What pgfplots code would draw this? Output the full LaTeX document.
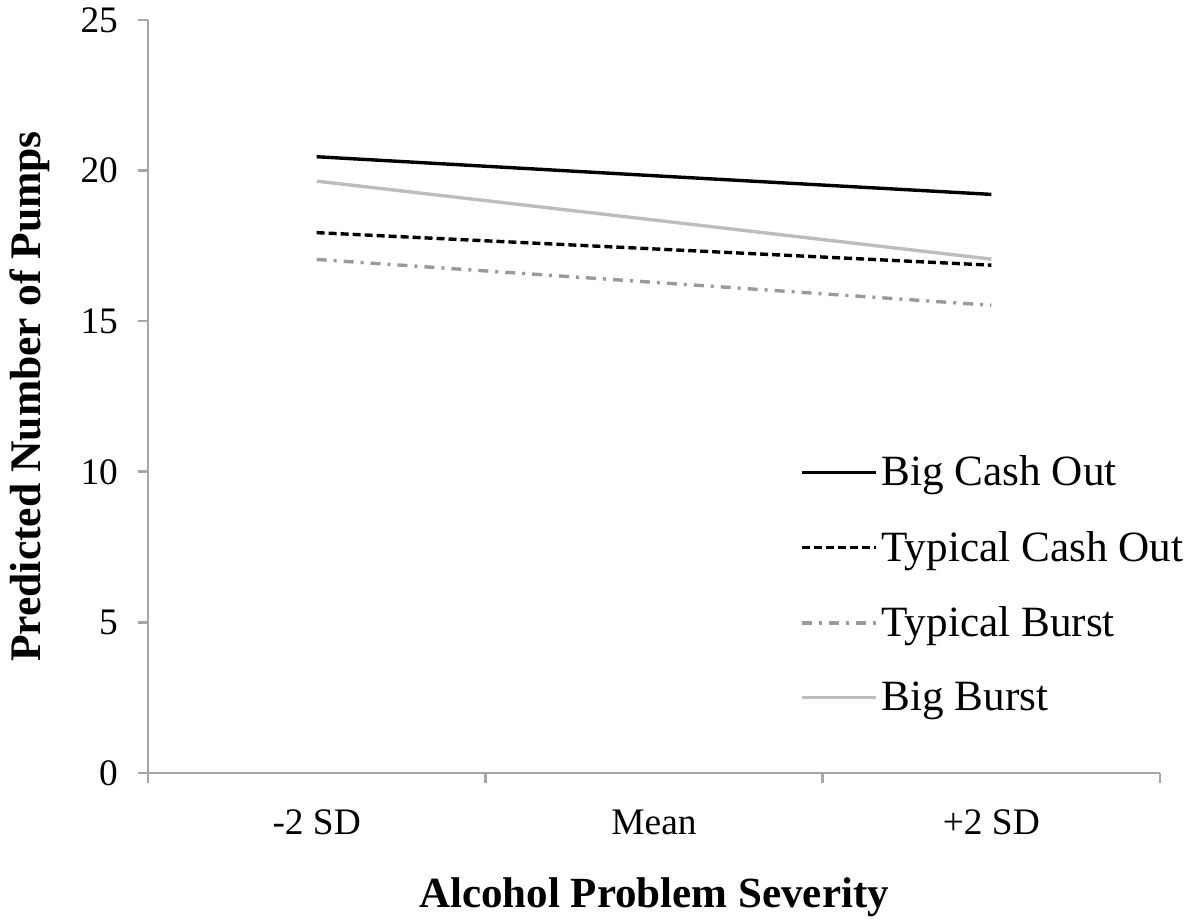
\documentclass[border=0pt]{standalone}
\usepackage{fontspec}
\setmainfont{Liberation Serif}
\usepackage{pgfplots}
\pgfplotsset{compat=1.18}
\definecolor{axisgrey}{HTML}{A6A6A6}
\definecolor{lightgrey}{HTML}{BDBDBD}
\definecolor{midgrey}{HTML}{9A9A9A}
\begin{document}
\begin{tikzpicture}
\begin{axis}[
  scale only axis,
  width=506pt, height=376.5pt,
  xmin=0, xmax=3, ymin=0, ymax=25,
  axis lines*=left,
  axis line style={axisgrey, line width=1.3pt},
  every tick/.style={axisgrey, line width=1.3pt},
  tick align=outside,
  major tick length=5pt,
  xtick={0,1,2,3},
  xticklabels={-2 SD, Mean, +2 SD},
  x tick label as interval,
  ytick={0,5,10,15,20,25},
  /pgf/number format/assume math mode=true,
  tick label style={font=\fontsize{18.7}{22}\selectfont, black},
  xticklabel style={yshift=-10pt},
  yticklabel style={xshift=-6.5pt},
  xlabel={Alcohol Problem Severity},
  ylabel={Predicted Number of Pumps},
  every axis x label/.style={at={(axis description cs:0.5,0)}, yshift=-62pt, anchor=center, font=\fontsize{21.5}{25}\selectfont\bfseries},
  every axis y label/.style={at={(axis description cs:0,0.5)}, xshift=-59pt, rotate=90, anchor=center, font=\fontsize{21.8}{25}\selectfont\bfseries},
  legend style={draw=none, fill=none, at={(axis description cs:0.644,0.427)}, anchor=north west,
    font=\fontsize{21.6}{25}\selectfont, row sep=17.2pt, inner sep=0pt,
    legend cell align=left},
  legend image code/.code={\draw[#1] (0pt,0pt) -- (37pt,0pt);},
  clip=false,
]
\addplot[black, line width=1.7pt] coordinates {(0.5,20.46) (1.5,19.83) (2.5,19.21)};
\addlegendentry{Big Cash Out}
\addplot[black, line width=1.7pt, dash pattern=on 4pt off 2pt] coordinates {(0.5,17.94) (1.5,17.40) (2.5,16.86)};
\addlegendentry{Typical Cash Out}
\addplot[midgrey, line width=1.7pt, dash pattern=on 5pt off 3.5pt on 1.5pt off 3.5pt] coordinates {(0.5,17.05) (1.5,16.29) (2.5,15.53)};
\addlegendentry{Typical Burst}
\addplot[lightgrey, line width=1.7pt] coordinates {(0.5,19.65) (1.5,18.36) (2.5,17.06)};
\addlegendentry{Big Burst}
\end{axis}
\pgfresetboundingbox
\path[use as bounding box] (-74pt,-74pt) rectangle (520.5pt,386.5pt);
\end{tikzpicture}
\end{document}
